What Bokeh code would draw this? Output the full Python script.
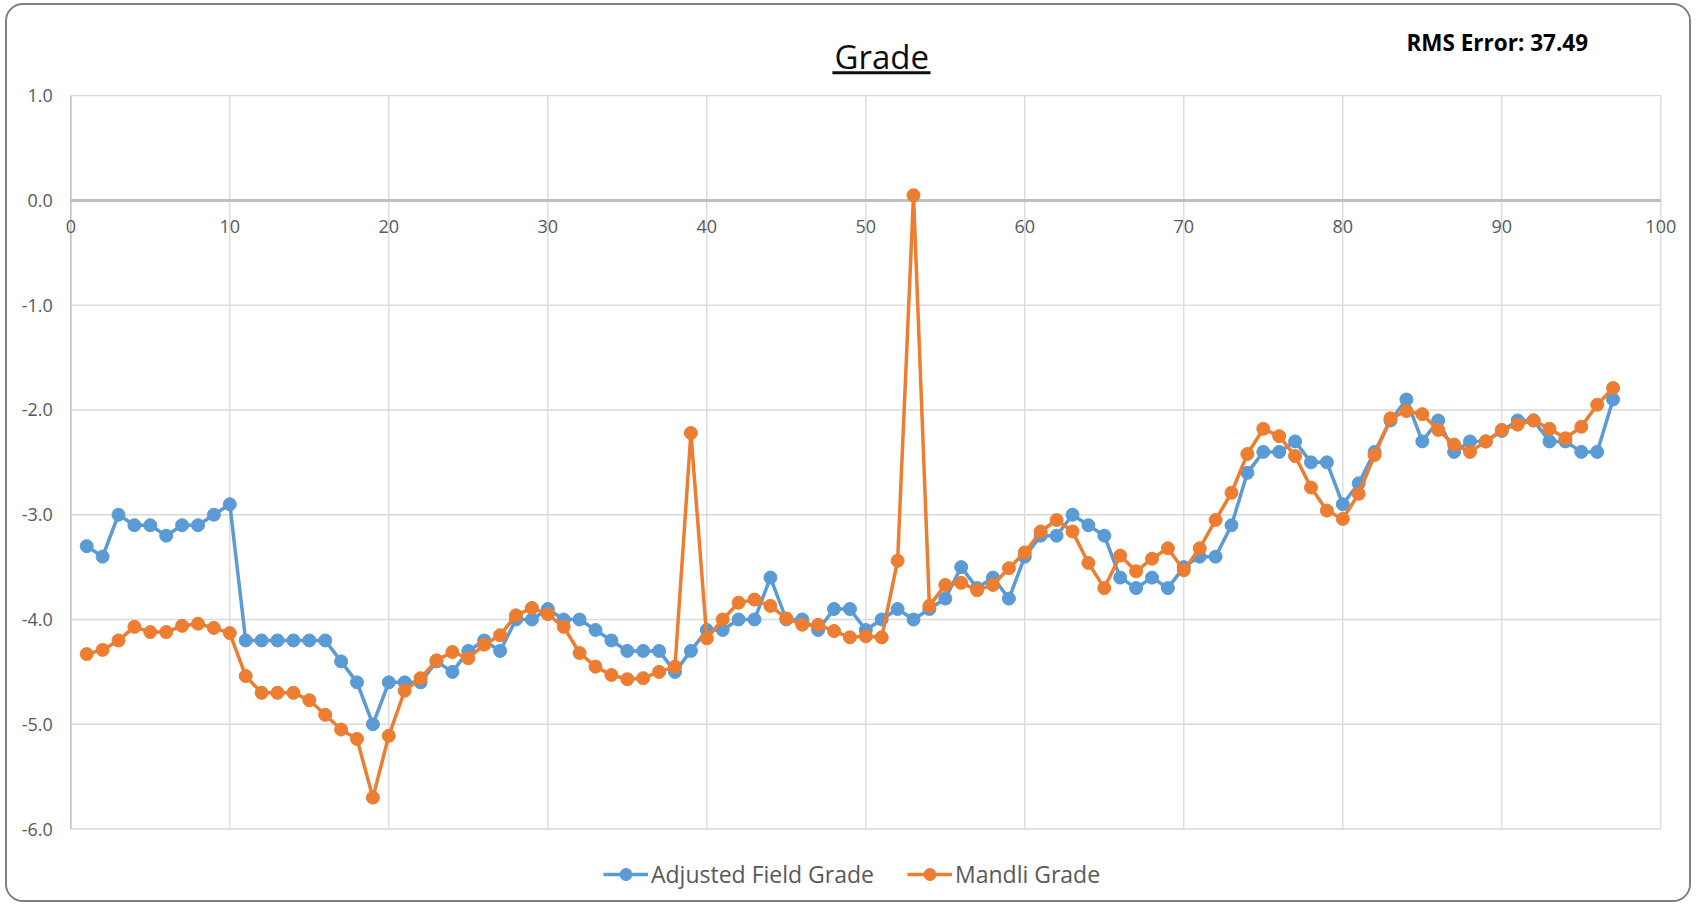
from bokeh.plotting import figure
from bokeh.models import ColumnDataSource, Range1d, Label, LabelSet, Legend, LegendItem
from bokeh.core.properties import value
from bokeh.embed import file_html
from bokeh.resources import INLINE

# ---------------- data ----------------
samples = list(range(1, 98))
adjusted_field_grade = [
    -3.3, -3.4, -3.0, -3.1, -3.1, -3.2, -3.1, -3.1, -3.0, -2.9,
    -4.2, -4.2, -4.2, -4.2, -4.2, -4.2, -4.4, -4.6, -5.0, -4.6,
    -4.6, -4.6, -4.4, -4.5, -4.3, -4.2, -4.3, -4.0, -4.0, -3.9,
    -4.0, -4.0, -4.1, -4.2, -4.3, -4.3, -4.3, -4.5, -4.3, -4.1,
    -4.1, -4.0, -4.0, -3.6, -4.0, -4.0, -4.1, -3.9, -3.9, -4.1,
    -4.0, -3.9, -4.0, -3.9, -3.8, -3.5, -3.7, -3.6, -3.8, -3.4,
    -3.2, -3.2, -3.0, -3.1, -3.2, -3.6, -3.7, -3.6, -3.7, -3.5,
    -3.4, -3.4, -3.1, -2.6, -2.4, -2.4, -2.3, -2.5, -2.5, -2.9,
    -2.7, -2.4, -2.1, -1.9, -2.3, -2.1, -2.4, -2.3, -2.3, -2.2,
    -2.1, -2.1, -2.3, -2.3, -2.4, -2.4, -1.9,
]
mandli_grade = [
    -4.33, -4.29, -4.20, -4.07, -4.12, -4.12, -4.06, -4.04, -4.08, -4.13,
    -4.54, -4.70, -4.70, -4.70, -4.77, -4.91, -5.05, -5.14, -5.70, -5.11,
    -4.68, -4.56, -4.39, -4.31, -4.37, -4.24, -4.15, -3.96, -3.89, -3.95,
    -4.07, -4.32, -4.45, -4.53, -4.57, -4.56, -4.50, -4.45, -2.22, -4.18,
    -4.00, -3.84, -3.81, -3.87, -3.99, -4.05, -4.05, -4.11, -4.17, -4.16,
    -4.17, -3.44, 0.05, -3.87, -3.67, -3.65, -3.72, -3.67, -3.51, -3.36,
    -3.16, -3.05, -3.16, -3.46, -3.70, -3.39, -3.54, -3.42, -3.32, -3.53,
    -3.32, -3.05, -2.79, -2.42, -2.18, -2.25, -2.44, -2.74, -2.96, -3.04,
    -2.80, -2.43, -2.08, -2.01, -2.04, -2.19, -2.33, -2.40, -2.30, -2.19,
    -2.14, -2.10, -2.18, -2.27, -2.16, -1.95, -1.79,
]
x_ticks = [0, 10, 20, 30, 40, 50, 60, 70, 80, 90, 100]
x_tick_labels = [str(t) for t in x_ticks]
y_ticks = [1, 0, -1, -2, -3, -4, -5, -6]
y_tick_labels = ["%.1f" % t for t in y_ticks]
series_names = ["Adjusted Field Grade", "Mandli Grade"]
series_colors = ["#5B9BD5", "#ED7D31"]
chart_title = "Grade"
rms_text = "RMS Error: 37.49"

# ---------------- layout (pixels) ----------------
W, H = 1686, 899                 # canvas size
X0, X1, Y0, Y1 = 0, 100, -6, 1   # plot area data limits
PLOT_LEFT, PLOT_TOP = 63.3, 90.2  # plot area offset inside canvas
PX_X, PX_Y = 15.9, 104.76         # pixels per data unit

x_start = X0 - PLOT_LEFT / PX_X
x_end = x_start + W / PX_X
y_end = Y1 + PLOT_TOP / PX_Y
y_start = y_end - H / PX_Y

FONT = "Open Sans"
TICK_COLOR = "#595959"
GRID_COLOR = "#d9d9d9"
AXIS_COLOR = "#bfbfbf"

p = figure(width=W, height=H, output_backend="svg", toolbar_location=None,
           x_range=Range1d(x_start, x_end), y_range=Range1d(y_start, y_end),
           min_border=0)
p.styles = {"border": "2px solid #7f7f7f", "border-radius": "18px",
            "margin": "3px 0 0 5px", "overflow": "hidden"}
p.outline_line_color = None
p.axis.visible = False
p.grid.visible = False
p.background_fill_color = "white"
p.border_fill_color = "white"

# grid lines
p.segment(x0=[X0] * len(y_ticks), x1=[X1] * len(y_ticks), y0=y_ticks, y1=y_ticks,
          line_color=GRID_COLOR, line_width=1.3)
p.segment(x0=x_ticks, x1=x_ticks, y0=[Y0] * len(x_ticks), y1=[Y1] * len(x_ticks),
          line_color=GRID_COLOR, line_width=1.3)
# axis lines
p.segment(x0=[X0], x1=[X0], y0=[Y0], y1=[Y1], line_color=AXIS_COLOR, line_width=1.3)
p.segment(x0=[X0], x1=[X1], y0=[0], y1=[0], line_color=AXIS_COLOR, line_width=3)

# series
src = ColumnDataSource(dict(x=samples, a=adjusted_field_grade, m=mandli_grade))
l1 = p.line("x", "a", source=src, line_color=series_colors[0], line_width=3.5)
c1 = p.scatter("x", "a", source=src, size=13, fill_color=series_colors[0], line_color=series_colors[0])
l2 = p.line("x", "m", source=src, line_color=series_colors[1], line_width=3.5)
c2 = p.scatter("x", "m", source=src, size=13, fill_color=series_colors[1], line_color=series_colors[1])

# tick labels
ytick_src = ColumnDataSource(dict(x=[X0] * len(y_ticks), y=y_ticks, t=y_tick_labels))
p.add_layout(LabelSet(x="x", y="y", text="t", source=ytick_src, x_offset=-18,
                      text_align="right", text_baseline="middle",
                      text_font=value(FONT), text_font_size="18px", text_color=TICK_COLOR))
xtick_src = ColumnDataSource(dict(x=x_ticks, y=[0] * len(x_ticks), t=x_tick_labels))
p.add_layout(LabelSet(x="x", y="y", text="t", source=xtick_src, y_offset=-32.5,
                      text_align="center", text_baseline="alphabetic",
                      text_font=value(FONT), text_font_size="18px", text_color=TICK_COLOR))

# title with underline
p.add_layout(Label(x=51.0, y=1.272, y_offset=11, text=chart_title, text_align="center",
                   text_baseline="alphabetic",
                   text_font=FONT, text_font_size="33px", text_color="#0d0d0d"))
p.segment(x0=[47.9], x1=[54.07], y0=[1.218], y1=[1.218], line_color="#0d0d0d", line_width=3)

# RMS label
p.add_layout(Label(x=84.0, y=1.438, y_offset=7.3, text=rms_text, text_align="left",
                   text_baseline="alphabetic",
                   text_font=FONT, text_font_size="22.5px", text_font_style="bold", text_color="#000000"))

# legend
legend = Legend(items=[LegendItem(label=series_names[0], renderers=[l1, c1]),
                       LegendItem(label=series_names[1], renderers=[l2, c2])],
                orientation="horizontal", location=(596, 14),
                glyph_width=45, glyph_height=30, label_standoff=3, spacing=33,
                padding=0, margin=0, border_line_color=None, background_fill_alpha=0,
                label_text_font=FONT, label_text_font_size="23px", label_text_color=TICK_COLOR)
p.add_layout(legend, "center")

open("out.html", "w").write(file_html(p, INLINE))
